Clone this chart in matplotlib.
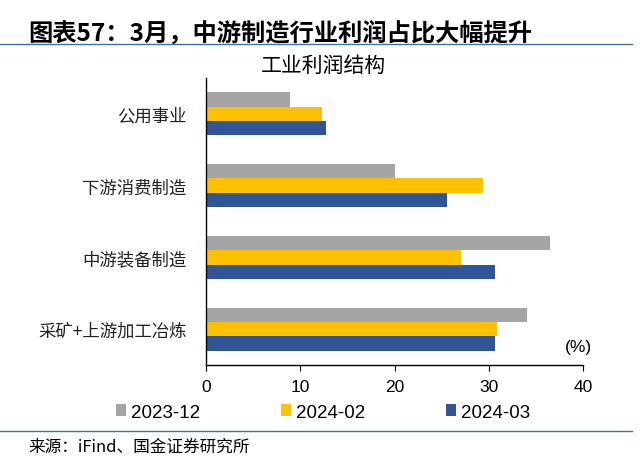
import numpy as np
import matplotlib
matplotlib.use('Agg')
import matplotlib.pyplot as plt
from matplotlib.lines import Line2D

plt.rcParams['font.family'] = ['Liberation Sans', 'Noto Sans CJK SC', 'DejaVu Sans']

# 数据
categories = ['公用事业', '下游消费制造', '中游装备制造', '采矿+上游加工冶炼']
series_names = ['2023-12', '2024-02', '2024-03']
v_2023_12 = [8.9, 20.0, 36.5, 34.1]
v_2024_02 = [12.3, 29.4, 27.0, 30.9]
v_2024_03 = [12.7, 25.6, 30.7, 30.7]
colors = ['#A5A5A5', '#FFC000', '#2F5597']

cjk = ['Noto Sans CJK SC', 'DejaVu Sans']

fig = plt.figure(figsize=(6.4, 4.64), dpi=100)
ax = fig.add_axes([0.322, 0.211, 0.589, 0.619])

y = np.arange(len(categories))
h = 0.2
for i, (vals, name, c) in enumerate(zip([v_2023_12, v_2024_02, v_2024_03], series_names, colors)):
    ax.barh(y + (i - 1) * h, vals, height=h, color=c, label=name)

ax.set_ylim(len(categories) - 0.5, -0.5)
ax.set_xlim(0, 40)
ax.set_xticks([0, 10, 20, 30, 40])
ax.set_yticks(y)
ax.set_yticklabels(categories, family=cjk, fontsize=12.5, color='#222222')
ax.tick_params(axis='y', length=0, pad=14)
ax.tick_params(axis='x', labelsize=12.5, length=4, direction='out', pad=6)
for s in ['top', 'right']:
    ax.spines[s].set_visible(False)
ax.spines['left'].set_linewidth(1.0)
ax.spines['bottom'].set_linewidth(1.0)

ax.text(0.987, 0.066, '(%)', transform=ax.transAxes, ha='center', va='center', fontsize=12.5)
fig.text(0.505, 0.858, '工业利润结构', family=cjk, fontsize=15, ha='center', va='center')

ax.legend(loc='upper center', bbox_to_anchor=(0.31, -0.075), ncol=3, frameon=False,
          fontsize=13.5, handlelength=0.55, handleheight=0.55, handletextpad=0.25,
          columnspacing=4.3)

# 标题与分隔线
fig.text(0.044, 0.928, '图表57：3月，中游制造行业利润占比大幅提升', family=cjk,
         fontsize=17.5, fontweight='bold', va='center', ha='left')
fig.add_artist(Line2D([0.0, 0.988], [0.903, 0.903], color='#41719C', lw=1.0))
fig.add_artist(Line2D([0.0, 0.988], [0.069, 0.069], color='#41719C', lw=1.0))
fig.text(0.044, 0.037, '来源：iFind、国金证券研究所', family=cjk, fontsize=12,
         va='center', ha='left')

fig.savefig('out.png', dpi=100)
